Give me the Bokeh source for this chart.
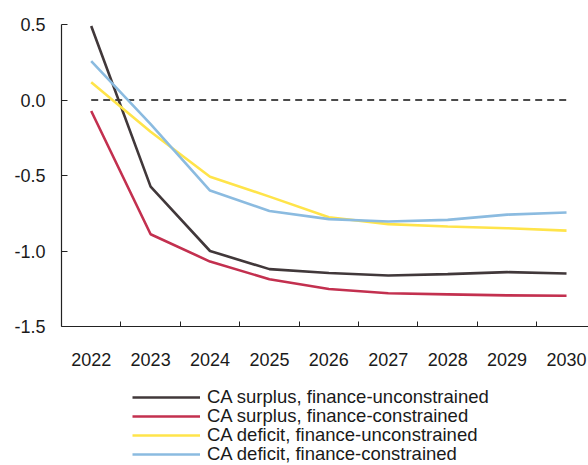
from bokeh.plotting import figure
from bokeh.layouts import column
from bokeh.models import Legend, LegendItem, FixedTicker, PrintfTickFormatter, Range1d
from bokeh.embed import file_html
from bokeh.resources import INLINE

years = [2022, 2023, 2024, 2025, 2026, 2027, 2028, 2029, 2030]
surplus_unconstrained = [0.49, -0.574, -1.0, -1.12, -1.146, -1.162, -1.153, -1.14, -1.149]
surplus_constrained = [-0.073, -0.889, -1.07, -1.187, -1.252, -1.28, -1.287, -1.294, -1.296]
deficit_unconstrained = [0.117, -0.21, -0.508, -0.64, -0.776, -0.822, -0.838, -0.849, -0.865]
deficit_constrained = [0.258, -0.16, -0.6, -0.735, -0.789, -0.805, -0.794, -0.759, -0.745]
series_names = [
    "CA surplus, finance-unconstrained",
    "CA surplus, finance-constrained",
    "CA deficit, finance-unconstrained",
    "CA deficit, finance-constrained",
]
colors = ["#41383a", "#c3304f", "#ffe44a", "#8bbbe0"]
y_ticks = [-1.5, -1.0, -0.5, 0.0, 0.5]
all_series = [surplus_unconstrained, surplus_constrained, deficit_unconstrained, deficit_constrained]

FONT = "Liberation Sans"

p = figure(width=588, height=386, output_backend="svg", toolbar_location=None,
           x_range=Range1d(2021.5, 2030.37), y_range=Range1d(-1.5, 0.5),
           min_border_left=61, min_border_right=0, min_border_top=24, min_border_bottom=60)
p.outline_line_color = None
p.grid.grid_line_color = None
p.background_fill_color = "white"
p.border_fill_color = "white"

# zero reference line
p.line(x=[years[0], years[-1]], y=[0, 0], line_color="#111111", line_width=1.5, line_dash="7 5")

for vals, c in zip(all_series, colors):
    p.line(x=years, y=vals, line_color=c, line_width=2.6)

# x axis
xa = p.xaxis[0]
xa.ticker = FixedTicker(ticks=years, minor_ticks=[y + 0.5 for y in years[:-1]])
xa.major_tick_in = 0
xa.major_tick_out = 0
xa.minor_tick_in = 5
xa.minor_tick_out = 0
xa.minor_tick_line_color = "#222222"
xa.axis_line_color = "#222222"
xa.axis_line_width = 1.2
xa.major_label_standoff = 26
xa.major_label_text_font = FONT
xa.major_label_text_font_size = "18px"
xa.major_label_text_color = "#1a1a1a"

# y axis
ya = p.yaxis[0]
ya.ticker = FixedTicker(ticks=y_ticks)
ya.formatter = PrintfTickFormatter(format="%.1f")
ya.major_tick_in = 6
ya.major_tick_out = 0
ya.minor_tick_in = 0
ya.minor_tick_out = 0
ya.major_tick_line_color = "#222222"
ya.axis_line_color = "#222222"
ya.axis_line_width = 1.2
ya.major_label_standoff = 16
ya.major_label_text_font = FONT
ya.major_label_text_font_size = "18px"
ya.major_label_text_color = "#1a1a1a"

# legend panel (series drawn out of view; only the legend shows)
p2 = figure(width=588, height=79, output_backend="svg", toolbar_location=None,
            x_axis_type=None, y_axis_type=None,
            x_range=p.x_range, y_range=Range1d(10, 11),
            min_border_left=61, min_border_right=0, min_border_top=0, min_border_bottom=0)
p2.outline_line_color = None
p2.grid.grid_line_color = None
p2.background_fill_color = "white"
p2.border_fill_color = "white"

legend_renderers = [p2.line(x=years, y=vals, line_color=c, line_width=2.6)
                    for vals, c in zip(all_series, colors)]

# one single-entry legend per row, stacked with a 19px step
row_offsets = [57, 38, 19, 0]
for n, r, off in zip(series_names, legend_renderers, row_offsets):
    lg = Legend(
        items=[LegendItem(label=n, renderers=[r])],
        location=(71, off),
        orientation="vertical",
        border_line_color=None,
        background_fill_alpha=0,
        padding=0,
        margin=0,
        spacing=0,
        glyph_width=68,
        glyph_height=20,
        label_height=20,
        label_standoff=7,
        label_text_font=FONT,
        label_text_font_size="18.5px",
        label_text_color="#1a1a1a",
    )
    p2.add_layout(lg, "center")

layout = column(p, p2, spacing=0)
open("out.html", "w").write(file_html(layout, INLINE))
